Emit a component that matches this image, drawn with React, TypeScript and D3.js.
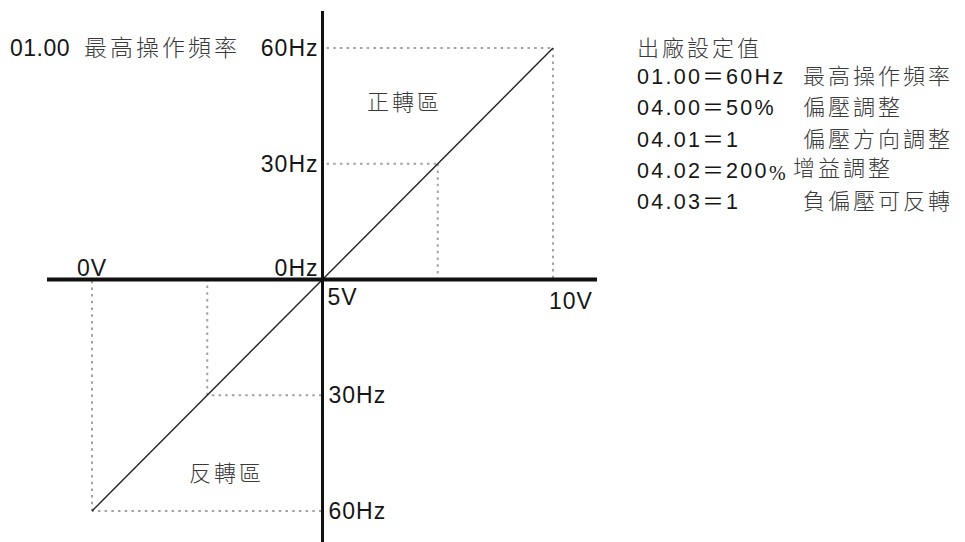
import React from "react";
import * as d3 from "d3";

// ---- data ----
const voltDomain = [0, 10];
const hzDomain = [-60, 60];
const lineVolts = [0, 10];
const lineHz = [-60, 60];
const guideVolts = [10, 7.5, 2.5, 0];
const guideHz = [60, 30, -30, -60];
const voltTickValues = [0, 5, 10];
const voltTickLabels = ["0V", "5V", "10V"];
const hzTickValues = [60, 30, 0, -30, -60];
const hzTickLabels = ["60Hz", "30Hz", "0Hz", "30Hz", "60Hz"];
const regionLabels = ["正轉區", "反轉區"];
const maxFreqCode = "01.00";
const maxFreqName = "最高操作頻率";
const legendTitle = "出廠設定值";
const legendCodes = ["01.00＝60Hz", "04.00＝50%", "04.01＝1", "04.02＝200", "04.03＝1"];
const legendSuffix = ["", "", "", "%", ""];
const legendDescs = ["最高操作頻率", "偏壓調整", "偏壓方向調整", "增益調整", "負偏壓可反轉"];

const W = 965;
const H = 542;
const NUM_FONT = "'Liberation Sans', Arial, 'Noto Sans CJK TC', sans-serif";
const CJK_FONT = "'Noto Sans CJK TC', 'Noto Sans CJK JP', sans-serif";
const DARK = "#161616";
const CJK_COLOR = "#3a3a3a";
const DOT = "#a2a2a2";

export default function App() {
  const x = d3.scaleLinear().domain(voltDomain).range([92, 553]);
  const y = d3.scaleLinear().domain(hzDomain).range([511, 48]);
  const x0 = x(5);
  const y0 = y(0);

  const linePath = d3
    .line<number>()
    .x((d) => x(d))
    .y((_, i) => y(lineHz[i]))(lineVolts as any);

  const dotted = {
    stroke: DOT,
    strokeWidth: 2,
    strokeDasharray: "2.5 4.2",
    fill: "none",
  };

  const axisFont = { fontFamily: NUM_FONT, fontSize: 23, fill: DARK, letterSpacing: 1 };
  const cjkFont = { fontFamily: CJK_FONT, fontWeight: 300, fontSize: 22, fill: CJK_COLOR, letterSpacing: 3 };

  return (
    <svg
      width={W}
      height={H}
      style={{ position: "absolute", left: 0, top: 0, background: "#fff" }}
    >
      {/* guide dotted lines */}
      {guideVolts.map((v, i) => {
        const hz = guideHz[i];
        const gx = x(v);
        const gy = y(hz);
        const hx = hz > 0 ? x0 + 4 : x0 - 1;
        return (
          <g key={i}>
            <line x1={hx} x2={gx} y1={gy} y2={gy} {...dotted} />
            <line x1={gx} x2={gx} y1={gy} y2={y0} {...dotted} />
          </g>
        );
      })}

      {/* diagonal characteristic line */}
      <path d={linePath || ""} stroke="#222" strokeWidth={1.4} fill="none" />

      {/* axes */}
      <line x1={47} x2={597} y1={y0} y2={y0} stroke="#111" strokeWidth={4} />
      <line x1={x0} x2={x0} y1={11} y2={H} stroke="#111" strokeWidth={3} />

      {/* voltage labels */}
      <text x={x(voltTickValues[0]) - 15} y={y0 - 4} {...axisFont}>
        {voltTickLabels[0]}
      </text>
      <text x={x(voltTickValues[1]) + 5} y={y0 + 25} {...axisFont}>
        {voltTickLabels[1]}
      </text>
      <text x={x(voltTickValues[2]) - 4} y={y0 + 29} {...axisFont}>
        {voltTickLabels[2]}
      </text>

      {/* frequency labels */}
      {hzTickValues.map((hz, i) => {
        const left = hz >= 0;
        const baseY = hz === 0 ? y0 - 4 : y(hz) + 8;
        return (
          <text
            key={i}
            x={left ? x0 - 4 : x0 + 6}
            y={baseY}
            textAnchor={left ? "end" : "start"}
            {...axisFont}
          >
            {hzTickLabels[i]}
          </text>
        );
      })}

      {/* max frequency label */}
      <text x={10} y={y(60) + 8} {...axisFont} letterSpacing={0.5}>
        {maxFreqCode}
      </text>
      <text x={84} y={y(60) + 8} {...cjkFont} fontSize={23}>
        {maxFreqName}
      </text>

      {/* region labels */}
      <text x={367} y={110} {...cjkFont}>
        {regionLabels[0]}
      </text>
      <text x={189} y={481} {...cjkFont}>
        {regionLabels[1]}
      </text>

      {/* factory settings legend */}
      <text x={637} y={56} {...cjkFont}>
        {legendTitle}
      </text>
      {legendCodes.map((c, i) => {
        const by = 84 + i * 31.3;
        const raised = i === 3;
        return (
          <g key={i}>
            <text x={637} y={by} fontFamily={NUM_FONT} fontSize={21.5} fill={DARK} letterSpacing={2.3}>
              {c}
              {legendSuffix[i] && (
                <tspan fontFamily="'Liberation Serif', serif" fontSize={20} letterSpacing={0} dy={2}>
                  {legendSuffix[i]}
                </tspan>
              )}
            </text>
            <text x={raised ? 793 : 803} y={raised ? by - 2 : by} {...cjkFont}>
              {legendDescs[i]}
            </text>
          </g>
        );
      })}
    </svg>
  );
}
